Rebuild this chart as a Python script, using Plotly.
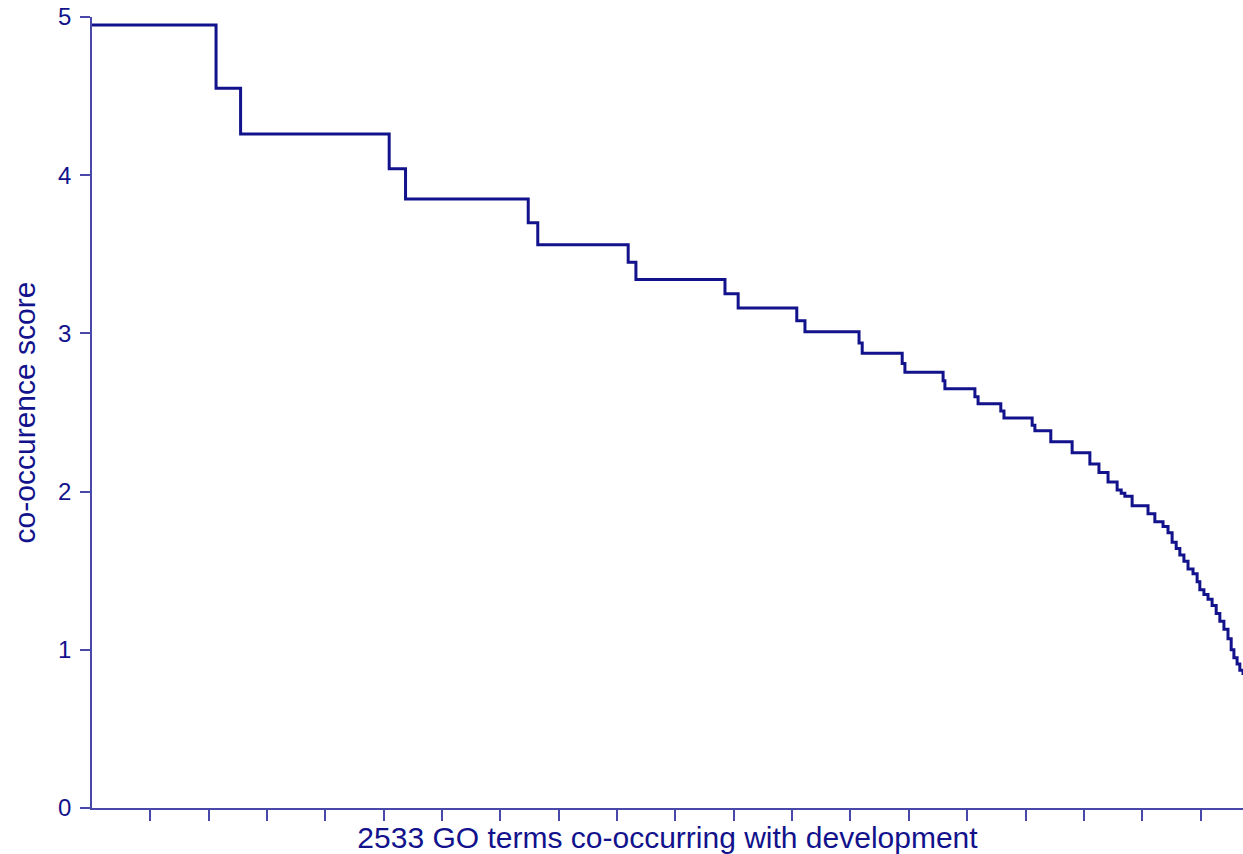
import plotly.graph_objects as go

# Step start positions (term rank) and co-occurrence score levels
step_start = [0, 273, 327, 654, 690, 960, 981, 1180, 1197, 1393, 1422, 1551, 1569,
              1688, 1695, 1783, 1789, 1873, 1877, 1943, 1950, 2000, 2007, 2069, 2075,
              2110, 2157, 2196, 2216, 2236, 2256, 2265, 2273, 2289, 2324, 2339, 2357,
              2368, 2377, 2386, 2394, 2403, 2412, 2423, 2432, 2438, 2447, 2456, 2465,
              2474, 2482, 2491, 2500, 2507, 2513, 2520, 2526, 2533]
score = [4.95, 4.55, 4.26, 4.04, 3.85, 3.70, 3.56, 3.45, 3.34, 3.25, 3.16, 3.08, 3.01,
         2.94, 2.875, 2.81, 2.755, 2.70, 2.65, 2.60, 2.555, 2.51, 2.465, 2.42, 2.385,
         2.315, 2.245, 2.175, 2.12, 2.06, 2.01, 1.99, 1.97, 1.91, 1.86, 1.81, 1.78,
         1.74, 1.68, 1.64, 1.60, 1.56, 1.51, 1.48, 1.43, 1.38, 1.35, 1.32, 1.28,
         1.23, 1.18, 1.13, 1.07, 1.00, 0.95, 0.91, 0.87, 0.84]
n_terms = 2533
x_title = "2533 GO terms co-occurring with development"
y_title = "co-occurence score"
y_ticks = [0, 1, 2, 3, 4, 5]
x_tick_step = 128.4
x_ticks = [x_tick_step * k for k in range(1, 20)]

navy = "#12128c"
axis_col = "#4848a8"

fig = go.Figure(go.Scatter(
    x=step_start, y=score, mode="lines", line_shape="hv",
    line=dict(color=navy, width=3), hoverinfo="skip", cliponaxis=False))

fig.update_layout(
    width=1243, height=854,
    margin=dict(l=92, r=0, t=17, b=46),
    paper_bgcolor="white", plot_bgcolor="white",
    showlegend=False,
    font=dict(family="Liberation Sans, Arial, sans-serif", color=navy),
)
fig.update_xaxes(
    range=[0, n_terms], showgrid=False, zeroline=False,
    showline=True, linecolor=axis_col, linewidth=1.5,
    ticks="outside", ticklen=11, tickwidth=1.5, tickcolor=axis_col,
    tickvals=x_ticks, showticklabels=False,
    title=dict(text=x_title, font=dict(size=30, color=navy), standoff=7),
)
fig.update_yaxes(
    range=[0, 5], showgrid=False, zeroline=False,
    showline=True, linecolor=axis_col, linewidth=1.5,
    ticks="outside", ticklen=10, tickwidth=1.5, tickcolor=axis_col,
    tickvals=y_ticks, tickfont=dict(size=24, color=navy),
    ticklabelstandoff=4,
    title=dict(text=y_title, font=dict(size=30, color=navy), standoff=14),
)

fig.write_html(
    "out.html",
    config={"displayModeBar": False},
    post_script="document.body.style.margin='0';document.body.style.overflow='hidden';",
)
